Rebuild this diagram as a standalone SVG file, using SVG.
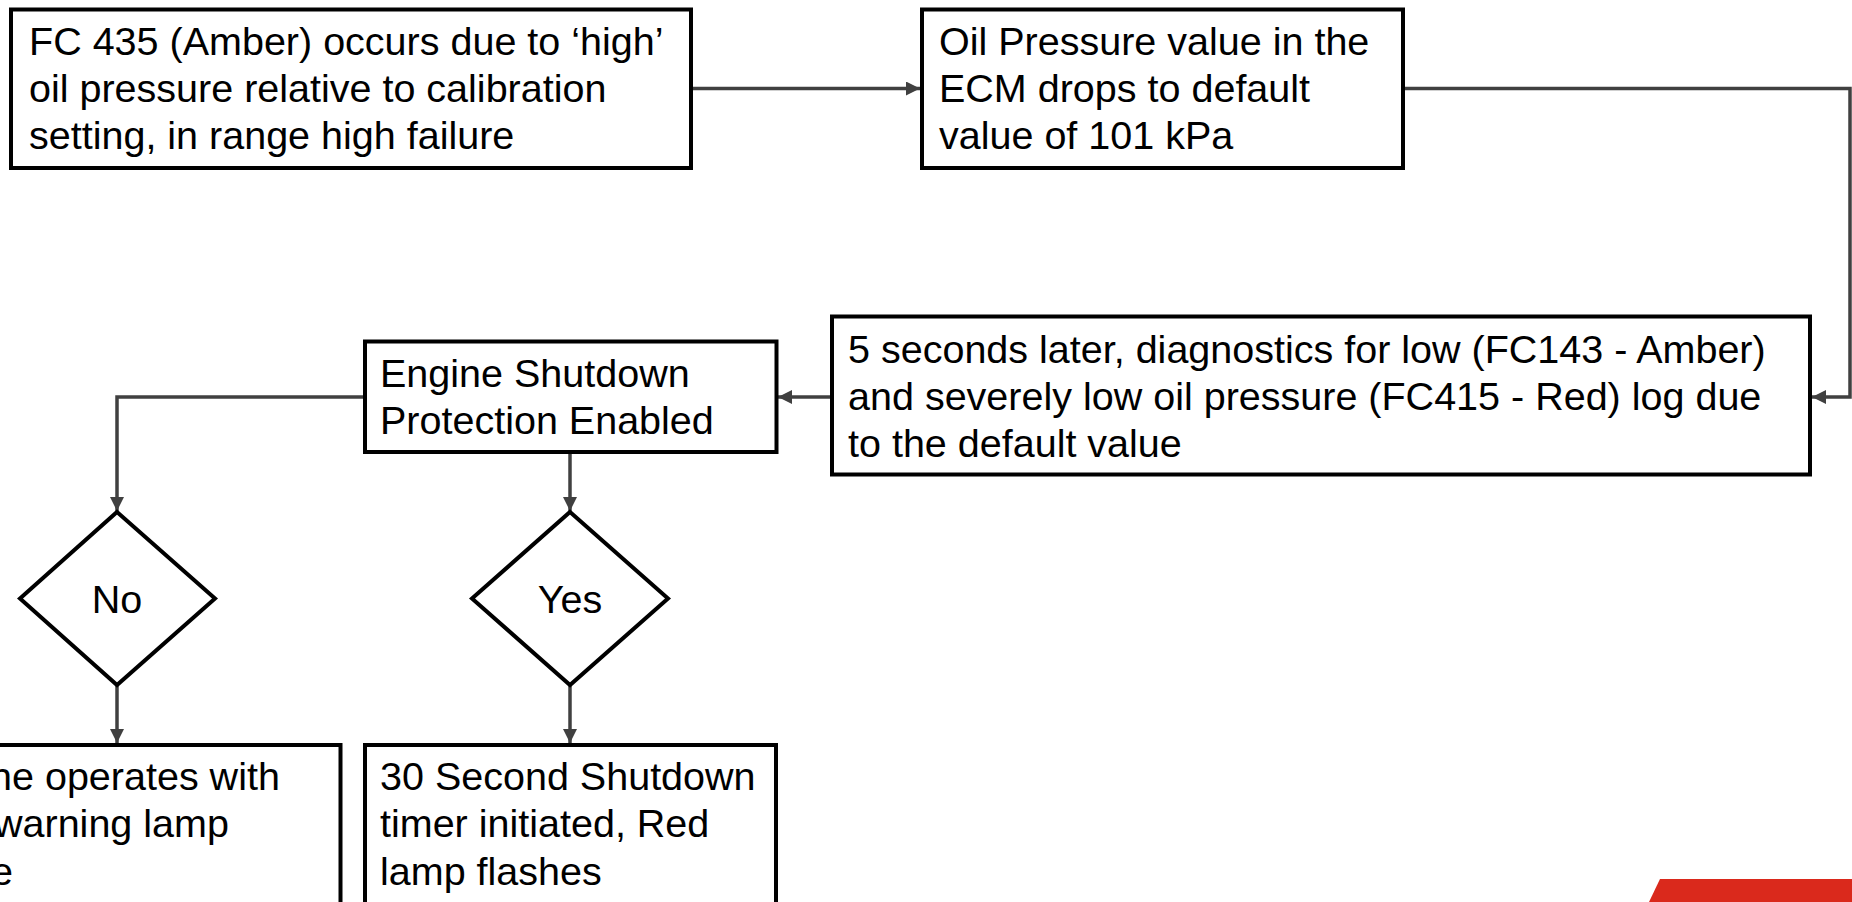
<svg xmlns="http://www.w3.org/2000/svg" width="1852" height="902" viewBox="0 0 1852 902">
<defs>
<style>
.box{fill:#fff;stroke:#000;stroke-width:4}
.t{font-family:"Liberation Sans",Arial,sans-serif;font-size:39.5px;fill:#000}
.c{fill:none;stroke:#404040;stroke-width:3.5}
</style>
<marker id="ah" viewBox="0 0 10 10" refX="10" refY="5" markerWidth="4" markerHeight="4" markerUnits="strokeWidth" orient="auto">
<path d="M0,0 L10,5 L0,10 z" fill="#404040"/>
</marker>
</defs>
<rect width="1852" height="902" fill="#fff"/>
<g id="connectors">
<path class="c" d="M691,88.5 H920" marker-end="url(#ah)"/>
<path class="c" d="M1403,88.5 H1850 V397 H1812" marker-end="url(#ah)"/>
<path class="c" d="M832,397 H778" marker-end="url(#ah)"/>
<path class="c" d="M365,397 H117 V511" marker-end="url(#ah)"/>
<path class="c" d="M570,452 V511" marker-end="url(#ah)"/>
<path class="c" d="M117,685 V743" marker-end="url(#ah)"/>
<path class="c" d="M570,685 V743" marker-end="url(#ah)"/>
</g>
<g id="n1">
<rect class="box" x="11" y="9.5" width="680" height="158.5"/>
<text class="t" x="29" y="55">FC 435 (Amber) occurs due to ‘high’</text>
<text class="t" x="29" y="102">oil pressure relative to calibration</text>
<text class="t" x="29" y="148.5">setting, in range high failure</text>
</g>
<g id="n2">
<rect class="box" x="922" y="9.5" width="481" height="158.5"/>
<text class="t" x="939" y="55">Oil Pressure value in the</text>
<text class="t" x="939" y="102">ECM drops to default</text>
<text class="t" x="939" y="148.5">value of 101 kPa</text>
</g>
<g id="n3">
<rect class="box" x="832" y="316.5" width="978" height="158"/>
<text class="t" x="848" y="363">5 seconds later, diagnostics for low (FC143 - Amber)</text>
<text class="t" x="848" y="410">and severely low oil pressure (FC415 - Red) log due</text>
<text class="t" x="848" y="457">to the default value</text>
</g>
<g id="n4">
<rect class="box" x="365" y="341.5" width="411.5" height="110.5"/>
<text class="t" x="380" y="387">Engine Shutdown</text>
<text class="t" x="380" y="434">Protection Enabled</text>
</g>
<g id="n5">
<polygon class="box" points="117,512 215,598.5 117,685 20,598.5"/>
<text class="t" x="117" y="613" text-anchor="middle">No</text>
</g>
<g id="n6">
<polygon class="box" points="570,512 668,598.5 570,685 472,598.5"/>
<text class="t" x="570" y="613" text-anchor="middle">Yes</text>
</g>
<g id="n7">
<rect class="box" x="-80" y="745" width="420.5" height="180"/>
<text class="t" x="-10" y="790">ne operates with</text>
<text class="t" x="-6" y="837">warning lamp</text>
<text class="t" x="-9" y="885">e</text>
</g>
<g id="n8">
<rect class="box" x="365" y="745" width="411" height="180"/>
<text class="t" x="380" y="790">30 Second Shutdown</text>
<text class="t" x="380" y="837">timer initiated, Red</text>
<text class="t" x="380" y="885">lamp flashes</text>
</g>
<polygon points="1660,879 1852,879 1852,902 1649,902" fill="#DA291C"/>
</svg>
